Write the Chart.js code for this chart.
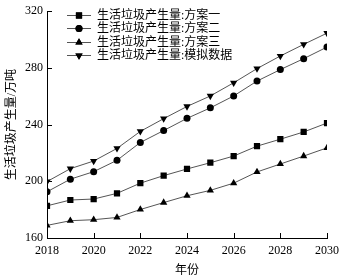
<!DOCTYPE html>
<html>
<head>
<meta charset="utf-8">
<script src="https://cdn.jsdelivr.net/npm/chart.js@4"></script>
<style>
  html, body { margin: 0; padding: 0; background: #fff; }
  #wrap { width: 345px; height: 278px; position: relative; }
</style>
</head>
<body>
<div id="wrap"><canvas id="c"></canvas></div>
<script>
const years = [2018, 2019, 2020, 2021, 2022, 2023, 2024, 2025, 2026, 2027, 2028, 2029, 2030];
const seriesNames = ['生活垃圾产生量:方案一', '生活垃圾产生量:方案二', '生活垃圾产生量:方案三', '生活垃圾产生量:模拟数据'];
const plan1 = [182.7, 186.8, 187.5, 191.5, 198.7, 204.0, 208.7, 213.1, 217.8, 224.8, 229.7, 234.8, 241.1];
const plan2 = [192.6, 201.5, 206.8, 214.8, 227.4, 235.8, 244.4, 251.8, 260.2, 270.7, 278.8, 286.5, 294.7];
const plan3 = [168.9, 172.2, 172.9, 174.5, 180.1, 185.0, 189.8, 193.6, 198.7, 206.6, 212.2, 217.8, 223.6];
const simData = [199.8, 208.9, 214.3, 223.2, 235.2, 244.2, 252.8, 260.2, 269.5, 279.5, 288.4, 296.6, 304.5];
const xTicks = [2018, 2020, 2022, 2024, 2026, 2028, 2030];
const yTicks = [160, 200, 240, 280, 320];

const FONT = '"Liberation Serif", "Noto Sans CJK SC", serif';

const markers = [
  { pointStyle: 'rect', radius: 4.4, rotation: 0 },
  { pointStyle: 'circle', radius: 3.5, rotation: 0 },
  { pointStyle: 'triangle', radius: 4.2, rotation: 0 },
  { pointStyle: 'triangle', radius: 4.2, rotation: 180 },
];

const toPoints = (arr) => arr.map((v, i) => ({ x: years[i], y: v }));

const datasets = [plan1, plan2, plan3, simData].map((arr, i) => ({
  label: seriesNames[i],
  data: toPoints(arr),
  borderColor: '#555',
  borderWidth: 1,
  backgroundColor: '#000',
  pointBackgroundColor: '#000',
  pointBorderColor: '#000',
  pointBorderWidth: 0,
  pointStyle: markers[i].pointStyle,
  pointRadius: markers[i].radius,
  pointRotation: markers[i].rotation,
  tension: 0,
  fill: false,
}));

// 안쪽으로 향하는 눈금 + 범례
const innerTicks = {
  id: 'innerTicks',
  afterDraw(chart) {
    const { ctx, chartArea, scales } = chart;
    ctx.save();
    ctx.strokeStyle = '#000';
    ctx.lineWidth = 1;
    ctx.beginPath();
    xTicks.forEach((t) => {
      const x = Math.round(scales.x.getPixelForValue(t)) + 0.5;
      ctx.moveTo(x, chartArea.bottom);
      ctx.lineTo(x, chartArea.bottom - 5);
    });
    yTicks.forEach((t) => {
      const y = Math.round(scales.y.getPixelForValue(t)) + 0.5;
      ctx.moveTo(chartArea.left, y);
      ctx.lineTo(chartArea.left + 5, y);
    });
    ctx.stroke();

    // legend
    const lx = 67, ly = 15, gap = 13.4;
    ctx.font = '12px ' + FONT;
    ctx.textBaseline = 'middle';
    ctx.fillStyle = '#000';
    chart.data.datasets.forEach((ds, i) => {
      const y = Math.round(ly + i * gap) + 0.5;
      ctx.strokeStyle = '#555';
      ctx.beginPath();
      ctx.moveTo(lx, y);
      ctx.lineTo(lx + 24, y);
      ctx.stroke();
      Chart.helpers.drawPoint(ctx, {
        pointStyle: ds.pointStyle,
        radius: ds.pointRadius,
        rotation: ds.pointRotation,
        borderWidth: 0,
      }, lx + 12, y);
      ctx.fillStyle = '#000';
      ctx.fill();
      ctx.fillText(ds.label, lx + 30, y + 0.5);
    });
    ctx.restore();
  },
};

new Chart(document.getElementById('c'), {
  type: 'line',
  data: { datasets },
  options: {
    responsive: true,
    maintainAspectRatio: false,
    animation: false,
    layout: { padding: { top: 9, right: 13, left: 0, bottom: 0 } },
    plugins: {
      legend: { display: false },
      tooltip: { enabled: false },
    },
    scales: {
      x: {
        type: 'linear',
        min: 2018,
        max: 2030,
        afterBuildTicks: (scale) => { scale.ticks = xTicks.map((v) => ({ value: v })); },
        ticks: {
          callback: (v) => String(v),
          color: '#000',
          font: { family: FONT, size: 12 },
          padding: 6,
          maxRotation: 0,
        },
        grid: { display: true, drawOnChartArea: false, drawTicks: false },
        border: { color: '#000', width: 1 },
        title: {
          display: true,
          text: '年份',
          color: '#000',
          font: { family: FONT, size: 12 },
          padding: { top: 0, bottom: 0 },
        },
        afterFit: (scale) => { scale.height = 40; },
      },
      y: {
        min: 160,
        max: 320,
        afterBuildTicks: (scale) => { scale.ticks = yTicks.map((v) => ({ value: v })); },
        ticks: {
          color: '#000',
          font: { family: FONT, size: 12 },
          padding: 4,
        },
        grid: { display: true, drawOnChartArea: false, drawTicks: false },
        border: { color: '#000', width: 1 },
        title: {
          display: true,
          text: '生活垃圾产生量/万吨',
          color: '#000',
          font: { family: FONT, size: 12 },
          padding: { top: 5, bottom: 0 },
        },
        afterFit: (scale) => { scale.width = 47; },
      },
    },
  },
  plugins: [innerTicks],
});
</script>
</body>
</html>
